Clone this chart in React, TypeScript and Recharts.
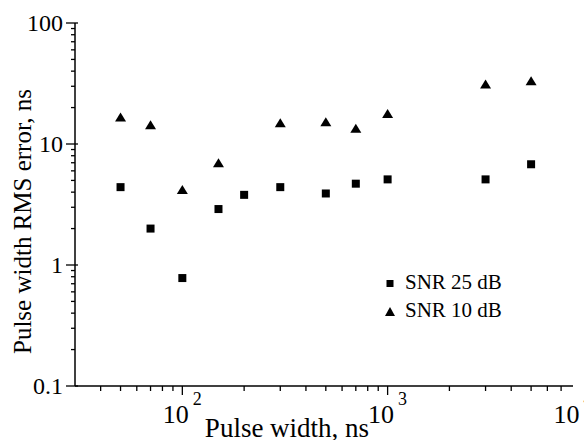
import React from 'react';
import { ScatterChart, Scatter, XAxis, YAxis, Legend } from 'recharts';

const FONT = '"Liberation Serif", "Times New Roman", Times, serif';

// Pulse width (ns) and RMS error (ns) for each series
const pulseWidths25 = [50, 70, 100, 150, 200, 300, 500, 700, 1000, 3000, 5000];
const rmsError25 = [4.4, 2.0, 0.78, 2.9, 3.8, 4.4, 3.9, 4.7, 5.1, 5.1, 6.8];
const pulseWidths10 = [50, 70, 100, 150, 300, 500, 700, 1000, 3000, 5000];
const rmsError10 = [16.7, 14.4, 4.2, 7.0, 15.0, 15.3, 13.5, 17.9, 31.3, 33.3];

const seriesNames = ['SNR 25 dB', 'SNR 10 dB'];

const xDomain = [30, 8000];
const xMajorTicks = [100, 1000, 8000];
const xTickExponents = ['2', '3', '4'];
const xMinorTicks = [40, 50, 60, 70, 80, 90, 200, 300, 400, 500, 600, 700, 800, 900, 2000, 3000, 4000, 5000, 6000, 7000];

const yDomain = [0.1, 100];
const yMajorTicks = [0.1, 1, 10, 100];
const yTickLabels = ['0.1', '1', '10', '100'];
const yMinorTicks = [
  0.2, 0.3, 0.4, 0.5, 0.6, 0.7, 0.8, 0.9,
  2, 3, 4, 5, 6, 7, 8, 9,
  20, 30, 40, 50, 60, 70, 80, 90,
];

const xTitle = 'Pulse width, ns';
const yTitle = 'Pulse width RMS error, ns';

const data25 = pulseWidths25.map((x, i) => ({ x, y: rmsError25[i] }));
const data10 = pulseWidths10.map((x, i) => ({ x, y: rmsError10[i] }));

const xTicks = [...xMajorTicks, ...xMinorTicks].sort((a, b) => a - b);
const yTicks = [...yMajorTicks, ...yMinorTicks].sort((a, b) => a - b);

const SW = 1.5;

const XTick = (props: any) => {
  const { x, y, payload } = props;
  const i = xMajorTicks.indexOf(payload.value);
  if (i < 0) {
    return <line x1={x} x2={x} y1={y} y2={y + 5} stroke="#000" strokeWidth={1.3} />;
  }
  return (
    <g>
      {i < xMajorTicks.length - 1 && (
        <line x1={x} x2={x} y1={y} y2={y + 9} stroke="#000" strokeWidth={1.3} />
      )}
      <text x={x} y={y + 37} textAnchor="middle" fontFamily={FONT} fontSize={26} fill="#000">
        <tspan>10</tspan>
        <tspan dx={4} dy={-18} fontSize={18}>{xTickExponents[i]}</tspan>
      </text>
    </g>
  );
};

const YTickLeft = (props: any) => {
  const { x, y, payload } = props;
  const i = yMajorTicks.indexOf(payload.value);
  if (i < 0) {
    return <line x1={x - 4} x2={x} y1={y} y2={y} stroke="#000" strokeWidth={1.3} />;
  }
  return (
    <g>
      <line x1={x - 9} x2={x + 3} y1={y} y2={y} stroke="#000" strokeWidth={1.3} />
      <text x={x - 12} y={y + 8} textAnchor="end" fontFamily={FONT} fontSize={24} fill="#000">
        {yTickLabels[i]}
      </text>
    </g>
  );
};

const YTickRight = (props: any) => {
  const { x, y, payload } = props;
  const i = yMajorTicks.indexOf(payload.value);
  const len = i < 0 ? 3 : 7;
  return <line x1={x - len} x2={x} y1={y} y2={y} stroke="#000" strokeWidth={1.3} />;
};

const Square = (props: any) => {
  const { cx, cy } = props;
  if (cx == null || cy == null) return null;
  return <rect x={cx - 4} y={cy - 4} width={8} height={8} fill="#000" />;
};

const Triangle = (props: any) => {
  const { cx, cy } = props;
  if (cx == null || cy == null) return null;
  return (
    <polygon
      points={`${cx},${cy - 4.5} ${cx - 5.5},${cy + 4.5} ${cx + 5.5},${cy + 4.5}`}
      fill="#000"
    />
  );
};

const LegendContent = () => (
  <svg width={160} height={60} style={{ display: 'block', overflow: 'visible' }}>
    {seriesNames.map((name, i) => {
      const base = 24 + 28 * i;
      return (
        <g key={name}>
          {i === 0 ? (
            <rect x={6.5} y={base - 9} width={7} height={7} fill="#000" />
          ) : (
            <polygon points={`10,${base - 10} 5,${base - 1} 15,${base - 1}`} fill="#000" />
          )}
          <text x={25} y={base} fontFamily={FONT} fontSize={21} fill="#000">
            {name}
          </text>
        </g>
      );
    })}
  </svg>
);

const XTitle = (props: any) => {
  const vb = props.viewBox || {};
  return (
    <text x={vb.x + 212} y={vb.y + 51} textAnchor="middle" fontFamily={FONT} fontSize={27} fill="#000">
      {xTitle}
    </text>
  );
};

const YTitle = (props: any) => {
  const vb = props.viewBox || {};
  const cx = vb.x + 31;
  const cy = vb.y + vb.height / 2 + 17;
  return (
    <text
      x={cx}
      y={cy}
      transform={`rotate(-90, ${cx}, ${cy})`}
      textAnchor="middle"
      fontFamily={FONT}
      fontSize={25}
      fill="#000"
    >
      {yTitle}
    </text>
  );
};

export default function App() {
  return (
    <div style={{ position: 'absolute', left: 0, top: 0, width: 584, height: 440, background: '#fff' }}>
      <ScatterChart width={584} height={440} margin={{ top: 23, right: 11, bottom: 0, left: 0 }}>
        <XAxis
          xAxisId="bottom"
          dataKey="x"
          type="number"
          scale="log"
          domain={xDomain}
          allowDataOverflow
          ticks={xTicks}
          interval={0}
          tickSize={0}
          tickMargin={0}
          tick={<XTick />}
          tickLine={false}
          axisLine={{ stroke: '#000', strokeWidth: SW }}
          height={54}
          label={<XTitle />}
        />
        <XAxis
          xAxisId="top"
          orientation="top"
          dataKey="x"
          type="number"
          scale="log"
          domain={xDomain}
          allowDataOverflow
          tick={false}
          tickLine={false}
          axisLine={{ stroke: '#000', strokeWidth: SW }}
          height={0}
        />
        <YAxis
          yAxisId="left"
          dataKey="y"
          type="number"
          scale="log"
          domain={yDomain}
          allowDataOverflow
          ticks={yTicks}
          interval={0}
          tickSize={0}
          tickMargin={0}
          tick={<YTickLeft />}
          tickLine={false}
          axisLine={{ stroke: '#000', strokeWidth: SW }}
          width={75}
          label={<YTitle />}
        />
        <YAxis
          yAxisId="right"
          orientation="right"
          dataKey="y"
          type="number"
          scale="log"
          domain={yDomain}
          allowDataOverflow
          ticks={yTicks}
          interval={0}
          tickSize={0}
          tickMargin={0}
          tick={<YTickRight />}
          tickLine={false}
          axisLine={{ stroke: '#000', strokeWidth: SW }}
          width={0}
        />
        <Legend
          layout="vertical"
          align="center"
          verticalAlign="middle"
          content={<LegendContent />}
          wrapperStyle={{ left: 380, top: 265, width: 160, height: 60 }}
        />
        <Scatter
          name={seriesNames[0]}
          data={data25}
          xAxisId="bottom"
          yAxisId="left"
          fill="#000"
          shape={<Square />}
          isAnimationActive={false}
        />
        <Scatter
          name={seriesNames[1]}
          data={data10}
          xAxisId="bottom"
          yAxisId="left"
          fill="#000"
          shape={<Triangle />}
          isAnimationActive={false}
        />
      </ScatterChart>
    </div>
  );
}
